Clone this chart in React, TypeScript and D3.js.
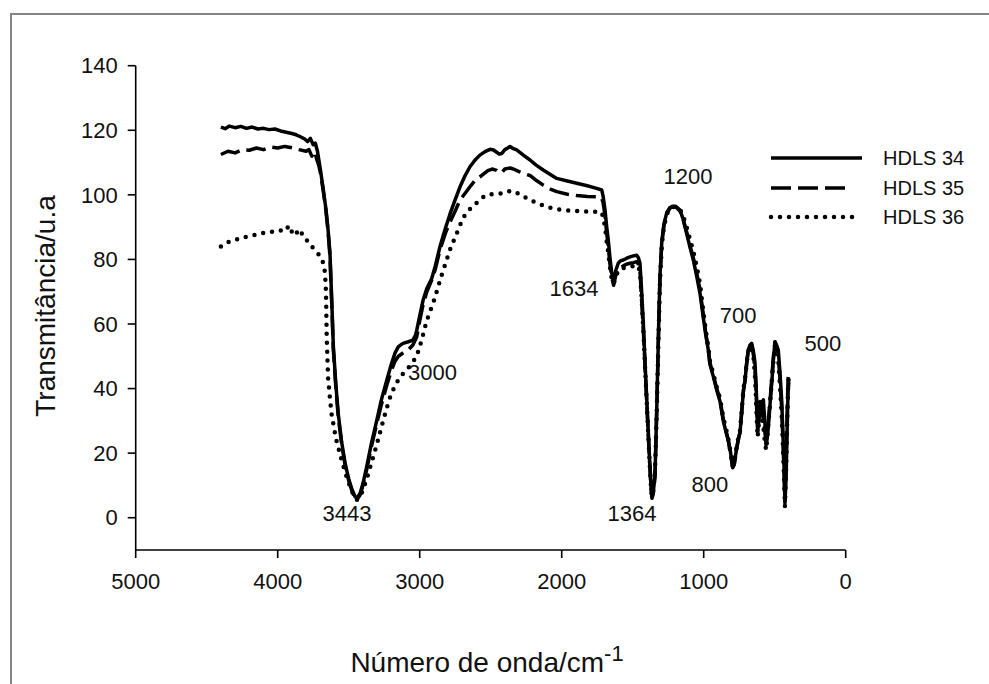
import React from 'react';
import * as d3 from 'd3';

const xTicks = [5000, 4000, 3000, 2000, 1000, 0];
const yTicks = [0, 20, 40, 60, 80, 100, 120, 140];
const seriesNames = ['HDLS 34', 'HDLS 35', 'HDLS 36'];

const hdls34: [number, number][] = [
  [4400, 121], [4370, 120.5], [4340, 121.3], [4300, 120.8], [4260, 121.2], [4220, 120.6], [4180, 121], [4140, 120.4],
  [4100, 120.6], [4060, 120.2], [4020, 120.4], [3980, 119.8], [3940, 119.4], [3900, 119], [3870, 118.6], [3840, 118],
  [3810, 117.3], [3790, 116.5], [3770, 117.5], [3750, 115.5], [3735, 116], [3720, 113.5], [3700, 108], [3680, 102],
  [3660, 95.5], [3645, 89], [3632, 82], [3620, 68], [3608, 53], [3590, 41], [3573, 32], [3550, 23.5], [3526, 17],
  [3500, 12], [3475, 8.5], [3455, 6.5], [3443, 6], [3420, 7.5], [3400, 10.5], [3373, 15.8], [3340, 23], [3303, 30],
  [3270, 36.5], [3232, 42.6], [3200, 47.5], [3174, 51], [3150, 53], [3118, 54], [3080, 54.5], [3048, 55], [3030, 56.5],
  [3021, 58], [3000, 62.5], [2976, 67.4], [2950, 71], [2916, 74], [2890, 78], [2857, 84], [2820, 89.5], [2787, 94],
  [2750, 98.5], [2716, 102.5], [2680, 106], [2646, 108.7], [2610, 110.8], [2576, 112.3], [2540, 113.4], [2505, 114.1],
  [2480, 113.9], [2458, 113.2], [2440, 112.6], [2423, 112.8], [2400, 114], [2380, 114.5], [2364, 115], [2340, 114.3],
  [2317, 113.9], [2270, 112.3], [2223, 110.8], [2180, 109.2], [2130, 107.7], [2080, 106.3], [2035, 105.1], [1960, 104.3],
  [1894, 103.6], [1820, 102.8], [1754, 102], [1718, 101.5], [1708, 99.5], [1695, 95.3], [1683, 90], [1672, 86],
  [1660, 80.5], [1648, 75.8], [1634, 73], [1620, 76.5], [1601, 78.9], [1585, 79.6], [1566, 79.8], [1545, 80.3],
  [1519, 80.8], [1495, 81.1], [1472, 81.3], [1460, 80.5], [1449, 78.9], [1437, 70], [1425, 60], [1410, 45], [1395, 31],
  [1380, 17], [1370, 9], [1364, 6.5], [1355, 8], [1343, 13], [1330, 35], [1318, 58], [1308, 75], [1295, 85.5],
  [1280, 91], [1260, 94.5], [1240, 96], [1220, 96.5], [1200, 96.5], [1185, 96], [1167, 95.3], [1145, 92.5], [1120, 88],
  [1095, 83.5], [1073, 79.8], [1050, 75], [1026, 69.5], [1003, 62], [985, 56.5], [968, 52], [956, 47.5], [932, 43.7],
  [908, 39.5], [885, 36], [862, 30], [840, 26], [827, 24], [812, 20.5], [796, 15.8], [785, 16.5], [770, 21], [755, 24.5],
  [744, 26.5], [730, 34], [720, 39.5], [709, 42.5], [697, 48], [686, 52], [674, 53.5], [662, 54], [650, 51.5], [639, 48],
  [632, 42], [627, 36.5], [620, 26.5], [612, 30], [604, 34.4], [592, 35.5], [580, 36.5], [570, 30], [561, 22.5],
  [553, 24.5], [545, 28], [533, 35], [521, 41.7], [510, 48.5], [498, 54.5], [487, 53.5], [475, 52], [463, 45], [451, 36.5],
  [442, 26], [434, 15.8], [428, 4.5], [420, 12], [412, 28], [406, 39], [400, 42],
];

const hdls35: [number, number][] = [
  [4400, 112.5], [4350, 113.5], [4300, 113], [4250, 114], [4200, 113.8], [4150, 114.5], [4100, 114], [4050, 114.8],
  [4000, 114.5], [3950, 115], [3900, 114.6], [3850, 114], [3800, 113.5], [3780, 114], [3760, 112], [3740, 113.5],
  [3725, 111], [3710, 109], [3700, 107], [3680, 101.5], [3660, 95], [3645, 88.5], [3632, 81], [3620, 67], [3608, 52],
  [3590, 40], [3573, 31], [3550, 23], [3526, 16.5], [3500, 11.5], [3475, 8], [3455, 6], [3443, 5.5], [3420, 7],
  [3400, 10], [3373, 15], [3340, 22], [3303, 29], [3270, 35], [3232, 41], [3200, 45.5], [3174, 48.5], [3150, 50],
  [3118, 51], [3080, 52], [3048, 53.5], [3021, 56], [3000, 61], [2976, 66], [2950, 70], [2916, 73.5], [2890, 77],
  [2857, 83], [2820, 88], [2787, 91.5], [2750, 95], [2716, 98.4], [2680, 100.5], [2646, 102.5], [2610, 104.5],
  [2563, 106], [2520, 107.5], [2490, 108], [2458, 107.6], [2440, 106.8], [2420, 107], [2400, 108], [2380, 108.2],
  [2364, 108.3], [2340, 108], [2300, 107.2], [2260, 106.5], [2223, 106], [2180, 104.5], [2130, 103], [2080, 101.8],
  [2035, 101], [1960, 100.2], [1894, 99.8], [1820, 99.5], [1754, 99.4], [1718, 99], [1708, 97.5], [1695, 93.5],
  [1683, 88], [1672, 84], [1660, 78.5], [1648, 74.5], [1634, 72], [1620, 75], [1601, 77], [1585, 77.5], [1566, 78],
  [1545, 78.5], [1519, 78.8], [1495, 79], [1472, 79.3], [1460, 78.5], [1449, 77], [1437, 67], [1425, 58], [1410, 44],
  [1395, 30], [1380, 16.5], [1370, 8.5], [1364, 6], [1355, 7.5], [1343, 13], [1330, 34], [1318, 57], [1308, 74],
  [1295, 85], [1280, 90.5], [1260, 94], [1240, 95.8], [1220, 96.3], [1200, 96.3], [1185, 95.8], [1167, 95],
  [1145, 92.5], [1120, 88.5], [1095, 84], [1073, 80.5], [1050, 76], [1026, 70.5], [1003, 63], [985, 57], [968, 52.5],
  [956, 48], [932, 44], [908, 40], [885, 36.5], [862, 30.5], [840, 26.5], [827, 24], [812, 20], [796, 15.5], [785, 16.5],
  [770, 21], [755, 24.5], [744, 26.5], [730, 34], [720, 39.5], [709, 42.5], [697, 48], [686, 52], [674, 53.5],
  [662, 53.5], [650, 50.5], [639, 46], [632, 40], [627, 34], [620, 28], [612, 33], [604, 36], [592, 33], [580, 31],
  [570, 27], [561, 24], [553, 26], [545, 30], [533, 36], [521, 43], [510, 49.5], [498, 54.5], [487, 53], [475, 50.5],
  [463, 43], [451, 34], [442, 24], [434, 14], [428, 5], [420, 18], [412, 33], [406, 43], [400, 45],
];

const hdls36: [number, number][] = [
  [4400, 84], [4370, 85], [4340, 85.5], [4300, 86], [4260, 86.8], [4220, 87], [4180, 87.3], [4140, 88], [4100, 88.2],
  [4060, 88.6], [4020, 88.5], [3980, 89], [3950, 88.7], [3920, 90.5], [3900, 88.5], [3880, 89.5], [3860, 88],
  [3840, 89], [3820, 87], [3800, 86], [3780, 85.5], [3760, 84], [3740, 83], [3720, 82], [3700, 81], [3680, 79],
  [3667, 76], [3660, 70], [3655, 56], [3645, 43], [3630, 36], [3620, 32], [3590, 24.5], [3560, 19.5], [3541, 16.5],
  [3510, 12], [3480, 8.5], [3455, 6], [3443, 5.5], [3420, 6.5], [3400, 8.5], [3373, 12], [3340, 17], [3303, 22.5],
  [3270, 28], [3232, 34], [3200, 38.5], [3160, 42], [3120, 44.5], [3092, 45.7], [3060, 47.5], [3021, 50], [2986, 55],
  [2951, 61], [2906, 66.4], [2870, 71.5], [2857, 73.6], [2820, 78.5], [2787, 83], [2740, 88], [2693, 93], [2650, 95.5],
  [2623, 96.3], [2580, 98.5], [2528, 100], [2470, 100.3], [2411, 100.5], [2380, 101], [2352, 101.3], [2300, 100.3],
  [2260, 99.3], [2223, 98.4], [2160, 97.2], [2106, 96.3], [2050, 95.7], [1989, 95.3], [1900, 95], [1800, 94.8],
  [1754, 94.8], [1718, 94.5], [1708, 93], [1695, 90], [1683, 85.5], [1672, 82], [1660, 77.5], [1648, 74], [1634, 72.5],
  [1620, 74.5], [1601, 76.7], [1585, 77], [1566, 77.3], [1545, 77.5], [1519, 77.7], [1495, 78], [1472, 78.3],
  [1460, 77.5], [1449, 76.5], [1437, 68], [1425, 58], [1410, 44], [1395, 30], [1380, 16.5], [1370, 8.5], [1364, 6.5],
  [1355, 8.5], [1343, 14], [1330, 34], [1318, 56], [1308, 73], [1295, 84.5], [1280, 90], [1260, 94], [1240, 95.5],
  [1220, 96.2], [1200, 96.3], [1185, 96], [1167, 95.5], [1145, 93.5], [1120, 90], [1095, 86], [1073, 82.5], [1050, 78],
  [1026, 72.5], [1003, 64], [985, 58], [968, 53], [956, 48.5], [932, 44.5], [908, 40.5], [885, 37], [862, 31], [840, 27],
  [827, 24.5], [812, 20.5], [796, 16], [785, 17], [770, 21.5], [755, 25], [744, 27], [730, 34.5], [720, 40], [709, 43],
  [697, 48], [686, 51.5], [674, 53], [662, 53], [650, 50], [639, 44], [632, 37], [627, 31], [620, 25], [612, 29],
  [604, 32], [592, 31], [580, 28], [570, 24], [561, 21], [553, 24], [545, 29], [533, 35], [521, 42], [510, 48],
  [498, 53.5], [487, 52], [475, 49], [463, 41], [451, 32], [442, 22], [434, 12], [428, 3.5], [420, 14], [412, 30],
  [406, 40], [400, 44],
];

const annotationLabels = ['3443', '3000', '1634', '1364', '1200', '700', '500', '800'];
const annotationX = [3512, 2910, 1913, 1505, 1111, 758, 161, 956];
const annotationY = [1.5, 45.1, 71.1, 1.5, 105.8, 62.8, 54.1, 10.4];

const FONT = "'Liberation Sans', Arial, sans-serif";

export default function App() {
  const width = 989;
  const height = 684;
  const x = d3.scaleLinear().domain([5000, 0]).range([135.7, 845.7]);
  const y = d3.scaleLinear().domain([-10, 140]).range([550, 65.7]);
  const line = d3
    .line<[number, number]>()
    .x((d) => x(d[0]))
    .y((d) => y(d[1]));

  const styles = [
    { data: hdls34, dash: undefined as string | undefined, w: 3.5, cap: 'butt' },
    { data: hdls35, dash: '20 7', w: 3.5, cap: 'butt' },
    { data: hdls36, dash: '0 9', w: 4.5, cap: 'round' },
  ];
  const x0 = x(5000);
  const x1 = x(0);
  const yAxisY = y(-10);

  const legendX1 = 771;
  const legendX2 = [862, 852, 855];
  const legendY = [158, 188, 217];

  return (
    <svg
      width={width}
      height={height}
      style={{ position: 'absolute', left: 0, top: 0, background: '#fff' }}
      fontFamily={FONT}
    >
      <rect x={0} y={0} width={width} height={height} fill="#fff" />
      <rect x={11} y={14} width={1000} height={700} fill="none" stroke="#858585" strokeWidth={2} />

      {/* axes */}
      <line x1={x0} x2={x0} y1={y(140)} y2={yAxisY} stroke="#000" strokeWidth={1.6} />
      <line x1={x0} x2={x1} y1={yAxisY} y2={yAxisY} stroke="#000" strokeWidth={1.6} />
      {yTicks.map((t) => (
        <g key={'y' + t}>
          <line x1={x0 - 8} x2={x0} y1={y(t)} y2={y(t)} stroke="#000" strokeWidth={1.6} />
          <text x={x0 - 18} y={y(t)} dy="0.35em" textAnchor="end" fontSize={22} fill="#111">
            {t}
          </text>
        </g>
      ))}
      {xTicks.map((t) => (
        <g key={'x' + t}>
          <line x1={x(t)} x2={x(t)} y1={yAxisY} y2={yAxisY + 8} stroke="#000" strokeWidth={1.6} />
          <text x={x(t)} y={yAxisY + 31} dy="0.35em" textAnchor="middle" fontSize={22} fill="#111">
            {t}
          </text>
        </g>
      ))}

      {/* axis titles */}
      <text
        transform="translate(55, 306) rotate(-90)"
        textAnchor="middle"
        fontSize={28}
        fill="#111"
      >
        Transmitância/u.a
      </text>
      <text x={487} y={672} textAnchor="middle" fontSize={28} fill="#111">
        Número de onda/cm
        <tspan dy={-11} fontSize={22}>-1</tspan>
      </text>

      {/* series */}
      {styles.map((s, i) => (
        <path
          key={seriesNames[i]}
          d={line(s.data) || ''}
          fill="none"
          stroke="#000"
          strokeWidth={s.w}
          strokeDasharray={s.dash}
          strokeLinecap={s.cap as any}
          strokeLinejoin="round"
        />
      ))}

      {/* annotations */}
      {annotationLabels.map((lab, i) => (
        <text
          key={lab}
          x={x(annotationX[i])}
          y={y(annotationY[i])}
          dy="0.35em"
          textAnchor="middle"
          fontSize={22}
          fill="#111"
        >
          {lab}
        </text>
      ))}

      {/* legend */}
      {seriesNames.map((n, i) => (
        <g key={'leg' + n}>
          <line
            x1={legendX1}
            x2={legendX2[i]}
            y1={legendY[i]}
            y2={legendY[i]}
            stroke="#000"
            strokeWidth={styles[i].w}
            strokeDasharray={styles[i].dash}
            strokeLinecap={styles[i].cap as any}
          />
          <text x={883} y={legendY[i]} dy="0.35em" fontSize={20} fill="#111">
            {n}
          </text>
        </g>
      ))}
    </svg>
  );
}
